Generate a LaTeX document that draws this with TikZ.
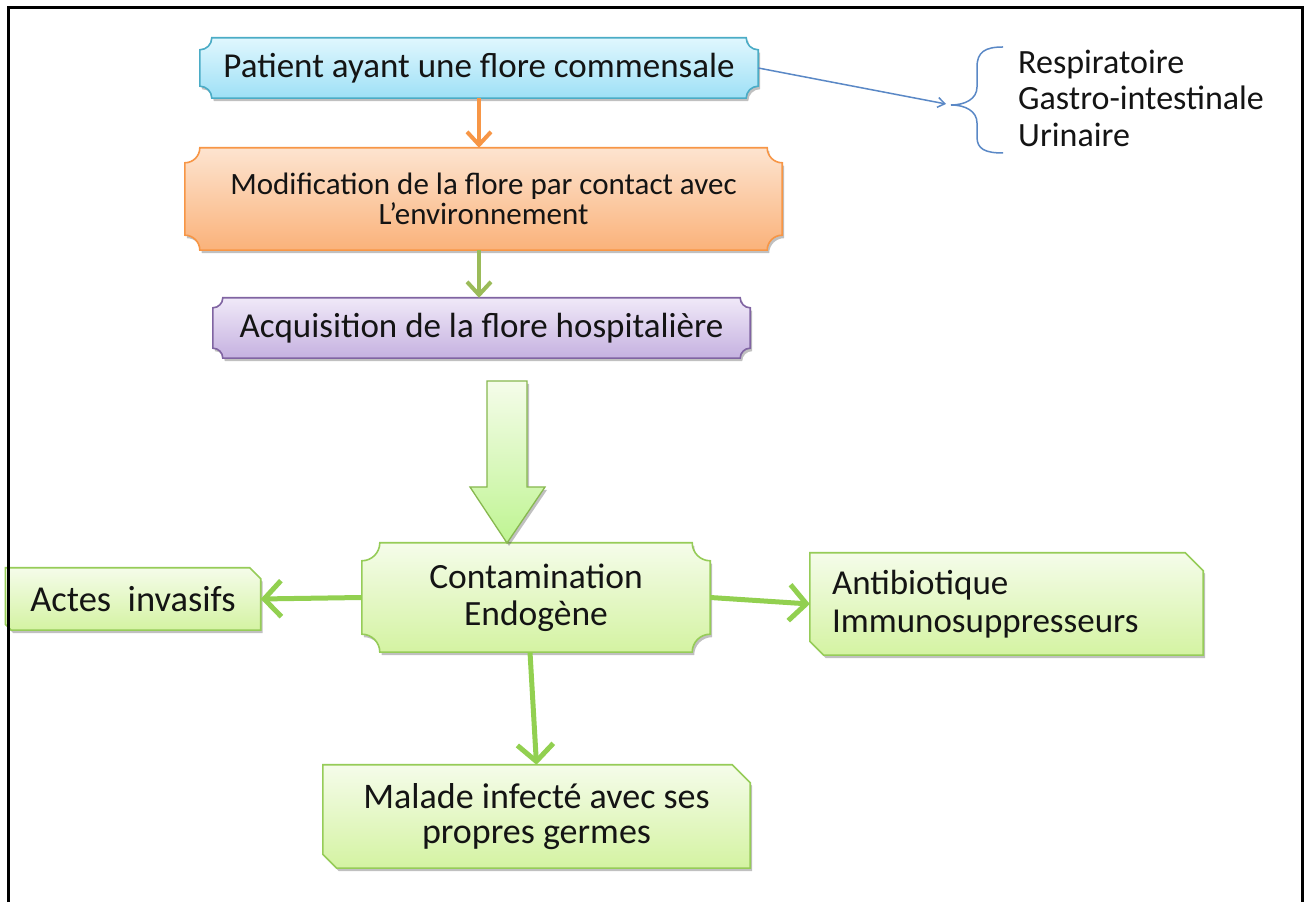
\documentclass[tikz,border=0pt]{standalone}
\usepackage{fontspec}
\setmainfont{Carlito}
\usetikzlibrary{arrows.meta,shadows,calc}
\pgfdeclarelayer{bg}
\pgfsetlayers{bg,main}
\definecolor{txt}{HTML}{141414}
\definecolor{cyanT}{HTML}{E0F7FE}\definecolor{cyanB}{HTML}{9EE0F6}\definecolor{cyanD}{HTML}{4BACC6}
\definecolor{orT}{HTML}{FDE4D0}\definecolor{orB}{HTML}{FAB27A}\definecolor{orD}{HTML}{F79646}
\definecolor{puT}{HTML}{F0E9F8}\definecolor{puB}{HTML}{C5B1E0}\definecolor{puD}{HTML}{8064A2}
\definecolor{grT}{HTML}{F5FCEA}\definecolor{grB}{HTML}{D4F3A2}\definecolor{grD}{HTML}{96CC58}
\definecolor{grA}{HTML}{92D050}\definecolor{olA}{HTML}{9BBB59}\definecolor{blA}{HTML}{5A88C6}
\tikzset{
  box/.style={draw=none, inner sep=0pt, align=center, text=txt},
  shad/.style={drop shadow={shadow xshift=2pt,shadow yshift=-3pt,opacity=.35,fill=black!70}},
  cyanbox/.style={shad, top color=cyanT, bottom color=cyanB, draw=cyanD, line width=1.6pt},
  orbox/.style={shad, top color=orT, bottom color=orB, draw=orD, line width=1.6pt},
  pubox/.style={shad, top color=puT, bottom color=puB, draw=puD, line width=1.6pt},
  grbox/.style={shad, top color=grT, bottom color=grB, draw=grD, line width=1.6pt},
  thickarrow/.style={line width=5pt, draw=grA, -{Straight Barb[length=17pt,width=36pt,line width=5pt]}},
  midarrow/.style={line width=4pt, -{Straight Barb[length=13pt,width=24pt,line width=4pt]}},
  bluearrow/.style={line width=1.5pt, draw=blA, -{Straight Barb[length=7pt,width=10pt,line width=1.5pt]}},
}
\newcommand\plaquepath[3]{%
  \path[#3] let \p1=(#1.south west), \p2=(#1.north east) in
    (\x1+#2,\y2) -- (\x2-#2,\y2) arc[start angle=180,end angle=270,radius=#2]
    -- (\x2,\y1+#2) arc[start angle=90,end angle=180,radius=#2]
    -- (\x1+#2,\y1) arc[start angle=0,end angle=90,radius=#2]
    -- (\x1,\y2-#2) arc[start angle=270,end angle=360,radius=#2] -- cycle;}
\newcommand\snippath[4]{%
  \path[#4] let \p1=(#1.south west), \p2=(#1.north east) in
    (\x1,\y2) -- (\x2-#2,\y2) -- (\x2,\y2-#2) -- (\x2,\y1)
    -- (\x1+#3,\y1) -- (\x1,\y1+#3) -- cycle;}
\begin{document}
\begin{tikzpicture}[x=1pt,y=1pt]
\useasboundingbox (0,0) rectangle (1306,902);

% nodes
\node[box, minimum width=558pt, minimum height=60pt, font=\fontsize{35pt}{37pt}\selectfont] (patient) at (479,834) {Patient ayant une flore commensale};
\node[box, minimum width=597pt, minimum height=102pt, font=\fontsize{31pt}{30pt}\selectfont] (modif) at (483.5,703) {Modification de la flore par contact avec\\L’environnement};
\node[box, minimum width=537pt, minimum height=60pt, font=\fontsize{35pt}{37pt}\selectfont] (acq) at (481.5,574) {Acquisition de la flore hospitalière};
\node[box, minimum width=348pt, minimum height=109pt, font=\fontsize{35.5pt}{37pt}\selectfont] (cont) at (536,304.5) {Contamination\\Endogène};
\node[box, minimum width=255pt, minimum height=62pt, font=\fontsize{36.5pt}{37pt}\selectfont] (actes) at (133,303) {Actes\ \ invasifs};
\node[box, minimum width=393pt, minimum height=102pt, text width=349pt, align=left, font=\fontsize{35pt}{38pt}\selectfont] (anti) at (1006.5,298) {Antibiotique\\Immunosuppresseurs};
\node[box, minimum width=427pt, minimum height=103pt, font=\fontsize{36pt}{35pt}\selectfont] (malade) at (536.5,85.5) {Malade infecté avec ses\\propres germes};
\node[box, anchor=west, align=left, font=\fontsize{34pt}{36.5pt}\selectfont] (list) at (1018,804) {Respiratoire\\Gastro-intestinale\\Urinaire};

% shapes behind
\begin{pgfonlayer}{bg}
\fill[white] (0,0) rectangle (1306,902);
\plaquepath{patient}{12pt}{cyanbox}
\plaquepath{modif}{15pt}{orbox}
\plaquepath{acq}{10pt}{pubox}
\plaquepath{cont}{18pt}{grbox}
\snippath{actes}{11pt}{6pt}{grbox}
\snippath{anti}{18pt}{14pt}{grbox}
\snippath{malade}{18pt}{14pt}{grbox}
% big hollow arrow
\path[shad, top color=grT, bottom color=grB!90!green, draw=grD!90!black, line width=1.3pt]
  (487,521) -- (527,521) -- (527,415) -- (545,415) -- (507,359) -- (470,415) -- (487,415) -- cycle;
\end{pgfonlayer}
\draw[line width=3pt] (8.5,0) -- (8.5,894.5) -- (1302.5,894.5) -- (1302.5,0);

% brace
\coordinate (bracetip) at (951,797);
\coordinate (arrtip) at (946,798);
\draw[blA, line width=1.5pt]
  (1003,855) .. controls (985,855) and (977,850) .. (977,835)
  -- (977,815) .. controls (977,803) and (965,797) .. (bracetip)
  .. controls (965,797) and (977,791) .. (977,779)
  -- (977,765) .. controls (977,753) and (985,749) .. (1003,749);

% connectors
\draw[midarrow, draw=orD] (patient.south) -- (patient.south |- modif.north);
\draw[midarrow, draw=olA] (modif.south -| patient.south) -- (patient.south |- acq.north);
\draw[bluearrow] (patient.east) -- (arrtip);
\draw[thickarrow] (cont.west) -- (actes.east);
\draw[thickarrow] (cont.east) -- (anti.west);
\draw[thickarrow] ($(cont.south)+(-6,0)$) -- (malade.north);
\end{tikzpicture}
\end{document}
